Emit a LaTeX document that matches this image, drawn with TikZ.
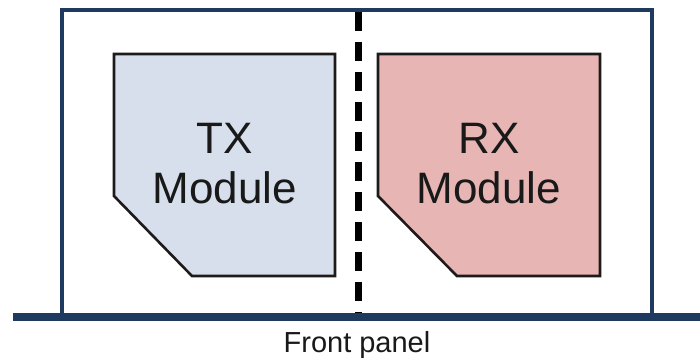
\documentclass[tikz,border=0pt]{standalone}
\usepackage{fontspec}
\setmainfont{Liberation Sans}
\definecolor{navy}{HTML}{1F3A5F}
\definecolor{txfill}{HTML}{D6DFEB}
\definecolor{rxfill}{HTML}{E6B5B4}
\definecolor{edge}{HTML}{1E1A1A}
\begin{document}
\begin{tikzpicture}[x=1pt,y=-1pt,
  frame/.style={draw=navy,line width=3.5pt},
  panel/.style={draw=navy,line width=8pt},
  modshape/.style={draw=edge,line width=2.6pt,line join=miter},
  bigtext/.style={font=\fontsize{44}{50}\selectfont,anchor=base,inner sep=0pt,text=black!90},
  smalltext/.style={font=\fontsize{29}{34}\selectfont,anchor=base,inner sep=0pt,text=black!90},
  divider/.style={draw=black,line width=7pt,dash pattern=on 19pt off 11pt}]
\useasboundingbox (0,0) rectangle (700,360);
\fill[white] (0,0) rectangle (700,360);
% outer enclosure
\coordinate (bl) at (62,317);
\coordinate (br) at (652,317);
\draw[frame] (bl) -- (62,10) -- (652,10) -- (br);
% dashed divider
\coordinate (dtop) at (358,12);
\coordinate (dbot) at (358,314);
\draw[divider] (dtop) -- (dbot);
% front panel
\coordinate (pl) at (13,317);
\coordinate (pr) at (700,317);
\draw[panel] (pl) -- (pr);
% TX module
\draw[modshape,fill=txfill] (114,54) -- (335,54) -- (335,276) -- (192,276) -- (114,196) -- cycle;
\node[bigtext] (tx1) at (225,153) {TX};
\node[bigtext] (tx2) at (225,203) {Module};
% RX module
\draw[modshape,fill=rxfill] (378,54) -- (600,54) -- (600,276) -- (457,276) -- (378,196) -- cycle;
\node[bigtext] (rx1) at (489,153) {RX};
\node[bigtext] (rx2) at (489,203) {Module};
% label
\node[smalltext] (fp) at (357,352) {Front panel};
\end{tikzpicture}
\end{document}
